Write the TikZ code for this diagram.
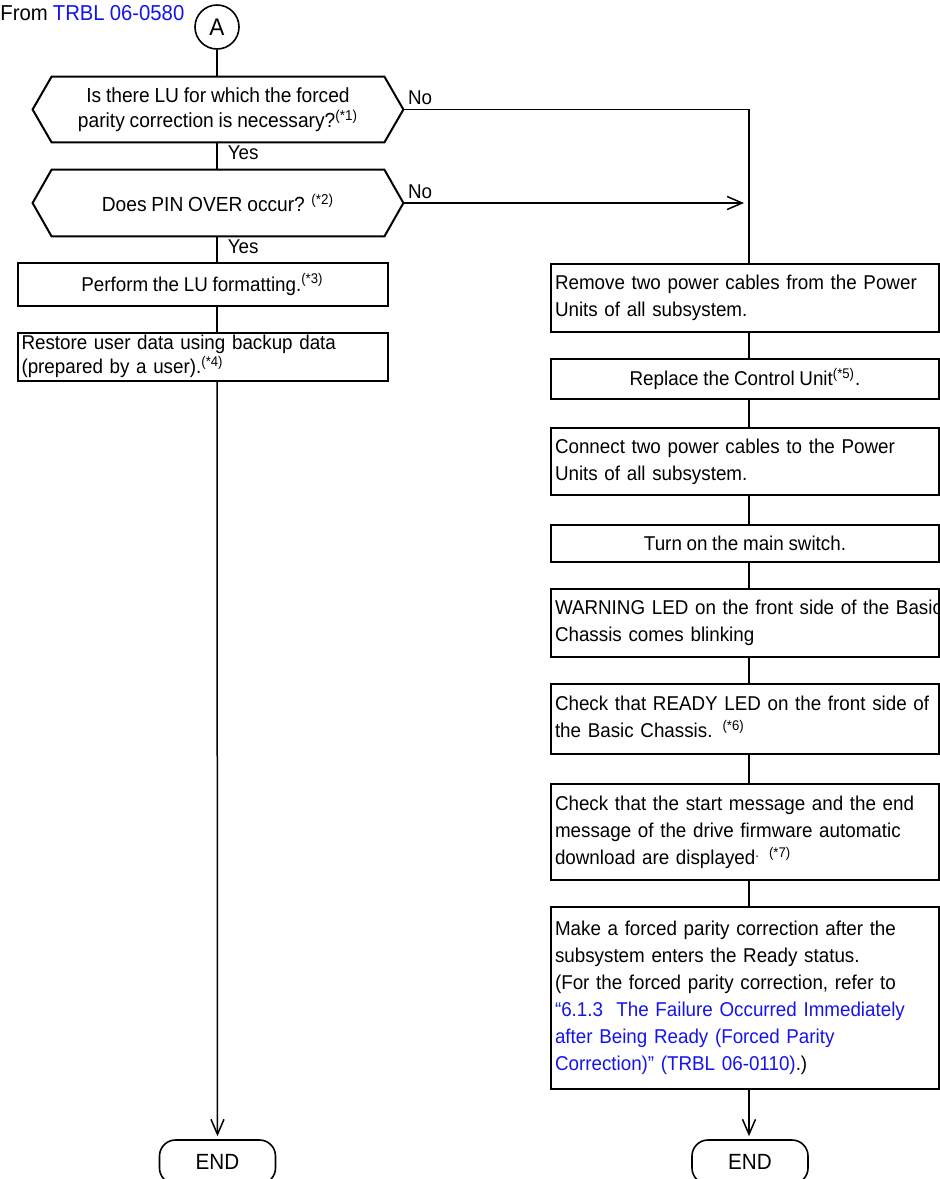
\documentclass[tikz,border=0pt]{standalone}
\usepackage{fontspec}
\setmainfont{Liberation Sans}[FakeStretch=0.94, WordSpace=0.9]
\usetikzlibrary{arrows.meta, positioning, calc}
\definecolor{linkblue}{RGB}{20,20,235}
\tikzset{
  txt/.style     = {font=\fontsize{10}{13.5}\selectfont},
  box/.style     = {txt, draw, line width=1pt, align=center, inner xsep=2pt,
                    inner ysep=0pt, minimum width=194pt},
  lbox/.style    = {box, align=left, text width=190pt},
  sbox/.style    = {box, minimum width=185pt},
  slbox/.style   = {sbox, align=left, text width=181pt},
  hexbox/.style  = {font=\fontsize{10.2}{12.5}\selectfont, align=center,
                    minimum width=185pt, inner sep=0pt},
  conn/.style    = {font=\fontsize{12}{14}\selectfont, circle, draw, line width=0.8pt,
                    minimum size=22pt, inner sep=0pt},
  endbox/.style  = {font=\fontsize{11}{13}\selectfont, draw, line width=0.8pt,
                    rounded corners=8pt, minimum width=58pt, minimum height=22pt},
  line/.style    = {line width=0.75pt},
  flow/.style    = {line, -{Straight Barb[length=7.5pt, width=6.5pt]}},
  yes/.style     = {txt, anchor=north west, pos=0, inner xsep=5pt, inner ysep=1.5pt},
  no/.style      = {txt, anchor=south west, pos=0, inner sep=2pt},
}
\newcommand{\drawhex}[1]{%
  \draw[line width=1pt] (#1.west) -- ([xshift=9.5pt]#1.north west)
    -- ([xshift=-9.5pt]#1.north east) -- (#1.east)
    -- ([xshift=-9.5pt]#1.south east) -- ([xshift=9.5pt]#1.south west) -- cycle;}
\newcommand{\note}[1]{\textsuperscript{#1}}
\newcommand{\link}[1]{\textcolor{linkblue}{#1}}
\newcommand{\lines}[1]{\begin{tabular}{@{}l@{}}#1\end{tabular}}

\begin{document}
\begin{tikzpicture}[x=0.5pt, y=-0.5pt]
  \useasboundingbox (0,0) rectangle (940,1179);
  \coordinate (lx) at (217,0);
  \coordinate (rx) at (749,0);

  % left column
  \node[font=\fontsize{10.8}{13}\selectfont, anchor=base west, inner sep=0pt] (from) at (0,20)
    {From \link{TRBL 06-0580}};
  \node[conn] (A) at (217,27) {A};
  \node[hexbox, minimum height=32.5pt] (q1) at (218,109.5)
    {Is there LU for which the forced\\ parity correction is necessary?\note{(*1)}};
  \node[hexbox, minimum height=33pt] (q2) at (218,203) {Does PIN OVER occur? \note{(*2)}};
  \drawhex{q1}
  \drawhex{q2}
  \node[sbox, minimum height=21.5pt] (fmt) at (202.5,284.5) {Perform the LU formatting.\note{(*3)}};
  \node[slbox, font=\fontsize{10}{11.5}\selectfont, minimum height=24pt] (rst) at (202.5,357)
    {\lines{Restore user data using backup data\\ (prepared by a user).\note{(*4)}}};
  \node[endbox] (endL) at (217.5,1162) {END};

  % right column
  \node[lbox, minimum height=34pt] (r1) at (745,298)
    {\lines{Remove two power cables from the Power\\ Units of all subsystem.}};
  \node[box, minimum height=20pt] (r2) at (745,379) {Replace the Control Unit\note{(*5)}.};
  \node[lbox, minimum height=33.5pt] (r3) at (745,461.5)
    {\lines{Connect two power cables to the Power\\ Units of all subsystem.}};
  \node[box, minimum height=18.5pt] (r4) at (745,543) {Turn on the main switch.};
  \node[lbox, minimum height=34pt] (r5) at (745,623)
    {\lines{WARNING LED on the front side of the Basic\\ Chassis comes blinking}};
  \node[lbox, minimum height=35pt] (r6) at (745,719)
    {\lines{Check that READY LED on the front side of\\ the Basic Chassis. \note{(*6)}}};
  \node[lbox, minimum height=48pt] (r7) at (745,832)
    {\lines{Check that the start message and the end\\ message of the drive firmware automatic\\
     download are displayed\note{. (*7)}}};
  \node[lbox, minimum height=91pt] (r8) at (745,998)
    {\lines{Make a forced parity correction after the\\ subsystem enters the Ready status.\\
     (For the forced parity correction, refer to\\
     \link{“6.1.3\ \ The Failure Occurred Immediately}\\
     \link{after Being Ready (Forced Parity}\\
     \link{Correction)” (TRBL 06-0110)}.)}};
  \node[endbox] (endR) at (750,1162) {END};

  % connectors
  \draw[line] (A.south) -- (q1.north -| lx);
  \draw[line] (q1.south -| lx) -- node[yes] {Yes} (q2.north -| lx);
  \draw[line] (q2.south -| lx) -- node[yes] {Yes} (fmt.north -| lx);
  \draw[line] (fmt.south -| lx) -- (rst.north -| lx);
  \draw[flow] (rst.south -| lx) -- ([yshift=1.5pt]endL.north);
  \draw[line] (q1.east) -- node[no] {No} (q1.east -| rx) -- (r1.north -| rx);
  \draw[flow] (q2.east) -- node[no] {No} ($(q2.east -| rx)+(-5,0)$);
  \foreach \a/\b in {r1/r2, r2/r3, r3/r4, r4/r5, r5/r6, r6/r7, r7/r8}
    \draw[line] (\a.south -| rx) -- (\b.north -| rx);
  \draw[flow] (r8.south -| rx) -- ([yshift=1.5pt]endR.north -| rx);
\end{tikzpicture}
\end{document}
